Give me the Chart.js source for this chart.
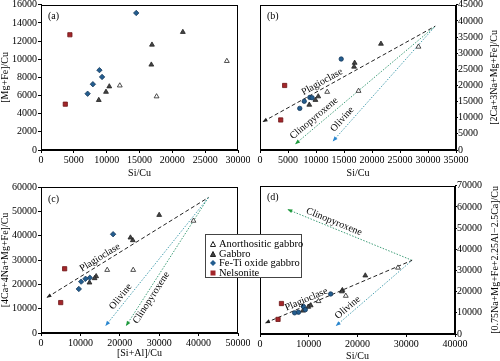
<!DOCTYPE html>
<html>
<head>
<meta charset="utf-8">
<script src="https://cdn.jsdelivr.net/npm/chart.js@4.4.1/dist/chart.umd.min.js"></script>
<style>
body { margin: 0; background: #fff; }
#wrap { position: relative; width: 500px; height: 361px; overflow: hidden; }
canvas { position: absolute; }
#legend {
  position: absolute; left: 205px; top: 234px; width: 97px; height: 44px;
  box-sizing: border-box; border: 1px solid #444; background: #fff;
  font: 10.5px 'Liberation Serif', 'Times New Roman', serif; color: #000;
  padding: 4px 0 0 4px; line-height: 9.5px; z-index: 5;
}
#legend div { white-space: nowrap; }
#legend svg { margin-right: 3px; vertical-align: 0px; }
</style>
</head>
<body>
<div id="wrap">
  <canvas id="pa" width="250" height="180" style="left:0;top:0"></canvas>
  <canvas id="pb" width="250" height="180" style="left:250px;top:0"></canvas>
  <canvas id="pc" width="250" height="180" style="left:0;top:181px"></canvas>
  <canvas id="pd" width="250" height="180" style="left:250px;top:181px"></canvas>
  <div id="legend">
    <div><svg width="6" height="6"><polygon points="3,0.5 5.6,5.5 0.4,5.5" fill="#fff" stroke="#222"/></svg>Anorthositic gabbro</div>
    <div><svg width="6" height="6"><polygon points="3,0.5 5.6,5.5 0.4,5.5" fill="#444" stroke="#222"/></svg>Gabbro</div>
    <div><svg width="6" height="6"><polygon points="3,0 6,3 3,6 0,3" fill="#235d8f"/></svg>Fe-Ti oxide gabbro</div>
    <div><svg width="6" height="6"><rect x="0.5" y="0.5" width="5" height="5" fill="#a3262a"/></svg>Nelsonite</div>
  </div>
</div>
<script>
// Si/Cu for each rock group (x of panels a, b, d)
const anoSiCu = [28300, 17600, 12000];
const gabSiCu = [21600, 16900, 16800, 10400, 9900, 8800];
const fetSiCu = [14500, 8900, 9300, 7900, 7100];
const nelSiCu = [4400, 3700];

// (a) [Mg+Fe]/Cu
const anoA = [9800, 5900, 7100];
const gabA = [13000, 11600, 9400, 7000, 6400, 5500];
const fetA = [15100, 8800, 8050, 7250, 6200];
const nelA = [12700, 5050];

// (b) [2Ca+3Na+Mg+Fe]/Cu
const anoB = [32000, 18300, 18000];
const gabB = [32900, 27000, 25800, 16600, 15500, 14000];
const fetB = [28200, 16300, 16200, 15100, 12900];
const nelB = [20000, 9300];

// (c) [Si+Al]/Cu vs [4Ca+4Na+Mg+Fe]/Cu
const anoCx = [38700, 23400, 16800];
const anoCy = [46100, 25900, 25900];
const gabCx = [30000, 23300, 22700, 14000, 13600, 12300];
const gabCy = [48500, 38100, 39200, 23300, 22500, 20700];
const fetCx = [18300, 12400, 11300, 10200, 9600];
const fetCy = [40600, 22700, 22300, 21100, 18100];
const nelCx = [6000, 5000];
const nelCy = [26400, 12500];

// (d) [0.75Na+Mg+Fe+2.25Al-2.5Ca]/Cu
const anoD = [31300, 18000, 15500];
const gabD = [27600, 20700, 20100, 13500, 12800, 11000];
const fetD = [18900, 13000, 11500, 10300, 10000];
const nelD = [14400, 6900];

// mineral vectors: [arrow tip, common end]
const bPlag = [[600, 8850], [31300, 38400]];
const bCpx = [[6400, 2000], [31300, 38400]];
const bOl = [[13100, 2900], [31300, 38400]];
const cPlag = [[1600, 14700], [42500, 55700]];
const cOl = [[16500, 3200], [42500, 55700]];
const cCpx = [[21700, 3200], [42500, 55700]];
const dPlag = [[1200, 5300], [31200, 34800]];
const dCpx = [[5800, 58700], [31200, 34800]];
const dOl = [[15700, 4100], [31200, 34800]];

const SERIF = "'Liberation Serif','Times New Roman',serif";

const sty = {
  ano: { pointStyle: 'triangle', pointRadius: 2.8, backgroundColor: '#fff', borderColor: '#222' },
  gab: { pointStyle: 'triangle', pointRadius: 2.8, backgroundColor: '#444', borderColor: '#222' },
  fet: { pointStyle: 'rectRot', pointRadius: 2.7, backgroundColor: '#235d8f', borderColor: '#163a5c' },
  fetC: { pointStyle: 'circle', pointRadius: 2.2, backgroundColor: '#235d8f', borderColor: '#163a5c' },
  nel: { pointStyle: 'rect', pointRadius: 3, backgroundColor: '#a3262a', borderColor: '#6d1517' }
};

function pts(xs, ys) { return xs.map((x, i) => ({ x: x, y: ys[i] })); }
function grp(xs, ys, s) { return Object.assign({ data: pts(xs, ys), borderWidth: 0.8 }, s); }
function vec(p, color, arrow, dash) {
  return { data: p.map(q => ({ x: q[0], y: q[1] })), showLine: true, borderColor: color, borderWidth: 1,
    borderDash: dash, pointRadius: 0, arrow: arrow };
}
const plagVec = p => vec(p, '#222', '#222', [4, 2.5]);
const cpxVec = p => vec(p, '#3f9d78', '#1f9a3c', [1.5, 1.5]);
const olVec = p => vec(p, '#4aa0b0', '#2a86d0', [1.5, 1.5]);

const decor = {
  id: 'decor',
  afterDatasetsDraw(chart) {
    const o = chart.options.plugins.decor;
    const ctx = chart.ctx, a = chart.chartArea, xs = chart.scales.x, ys = chart.scales.y;
    ctx.save();
    chart.data.datasets.forEach((ds, i) => {
      if (!ds.arrow) return;
      const m = chart.getDatasetMeta(i).data;
      const ang = Math.atan2(m[0].y - m[1].y, m[0].x - m[1].x);
      ctx.save();
      ctx.translate(m[0].x, m[0].y);
      ctx.rotate(ang);
      ctx.beginPath();
      ctx.moveTo(1, 0); ctx.lineTo(-4, -2); ctx.lineTo(-4, 2); ctx.closePath();
      ctx.fillStyle = ds.arrow;
      ctx.fill();
      ctx.restore();
    });
    ctx.font = '10px ' + SERIF;
    ctx.fillStyle = '#000';
    ctx.textBaseline = 'middle';
    (o.labels || []).forEach(l => {
      const m = chart.getDatasetMeta(l.ds).data;
      let ang = Math.atan2(m[1].y - m[0].y, m[1].x - m[0].x);
      if (ang > Math.PI / 2) ang -= Math.PI;
      if (ang < -Math.PI / 2) ang += Math.PI;
      ctx.save();
      ctx.translate(xs.getPixelForValue(l.at[0]), ys.getPixelForValue(l.at[1]));
      ctx.rotate(ang);
      ctx.textAlign = 'center';
      ctx.fillText(l.text, 0, 0);
      ctx.restore();
    });
    ctx.textAlign = 'left';
    ctx.fillText(o.tag, a.left + 7, a.top + 12);
    if (o.rightTitle) {
      ctx.save();
      ctx.translate(o.rtx, (a.top + a.bottom) / 2);
      ctx.rotate(-Math.PI / 2);
      ctx.textAlign = 'center';
      ctx.fillText(o.rightTitle, 0, 0);
      ctx.restore();
    }
    ctx.strokeStyle = '#000';
    ctx.lineWidth = 1;
    ctx.strokeRect(Math.round(a.left) + 0.5, Math.round(a.top) + 0.5,
      Math.round(a.right - a.left) - 1, Math.round(a.bottom - a.top) - 1);
    ctx.restore();
  }
};

function axis(pos, max, step, title, size, tpad) {
  const horiz = pos === 'bottom';
  return {
    type: 'linear', position: pos, min: 0, max: max,
    ticks: { stepSize: step, color: '#000', font: { family: SERIF, size: 10 },
      padding: pos === 'right' ? 0 : 1, maxRotation: 0, autoSkip: false, callback: v => String(v) },
    grid: { drawOnChartArea: false, tickLength: pos === 'right' ? 2 : 3, color: '#000' },
    border: { color: '#000' },
    title: { display: !!title, text: title, color: '#000', font: { family: SERIF, size: 10, lineHeight: 1 },
      padding: { top: 0, bottom: tpad || 0 } },
    afterFit(s) {
      if (horiz) s.height = size; else s.width = size;
      s.paddingLeft = s.paddingRight = s.paddingTop = s.paddingBottom = 0;
    }
  };
}

function panel(id, p) {
  new Chart(document.getElementById(id), {
    type: 'scatter',
    data: { datasets: p.sets },
    options: {
      responsive: false, animation: false, events: [],
      layout: { padding: p.pad },
      plugins: { legend: { display: false }, tooltip: { enabled: false }, decor: p.decor },
      scales: {
        x: axis('bottom', p.xmax, p.xstep, p.xtitle, p.xh, p.xtp),
        y: axis(p.ypos, p.ymax, p.ystep, p.ytitle, p.yw)
      }
    },
    plugins: [decor]
  });
}

panel('pa', {
  sets: [grp(nelSiCu, nelA, sty.nel), grp(fetSiCu, fetA, sty.fet), grp(gabSiCu, gabA, sty.gab), grp(anoSiCu, anoA, sty.ano)],
  pad: { left: 0, top: 4, right: 12, bottom: 0 },
  xmax: 30000, xstep: 5000, xtitle: 'Si/Cu', xh: 30, xtp: 2,
  ypos: 'left', ymax: 16000, ystep: 2000, ytitle: '[Mg+Fe]/Cu', yw: 41,
  decor: { tag: '(a)' }
});

panel('pb', {
  sets: [grp(nelSiCu, nelB, sty.nel), grp(fetSiCu, fetB, sty.fetC), grp(gabSiCu, gabB, sty.gab), grp(anoSiCu, anoB, sty.ano),
    plagVec(bPlag), cpxVec(bCpx), olVec(bOl)],
  pad: { left: 10, top: 3, right: 0, bottom: 0 },
  xmax: 35000, xstep: 5000, xtitle: 'Si/Cu', xh: 30, xtp: 2,
  ypos: 'right', ymax: 45000, ystep: 5000, ytitle: '', yw: 44,
  decor: { tag: '(b)', rightTitle: '[2Ca+3Na+Mg+Fe]/Cu', rtx: 244,
    labels: [{ ds: 4, text: 'Plagioclase', at: [11100, 21100] },
      { ds: 5, text: 'Clinopyroxene', at: [9640, 9800] },
      { ds: 6, text: 'Olivine', at: [14700, 9500] }] }
});

panel('pc', {
  sets: [grp(nelCx, nelCy, sty.nel), grp(fetCx, fetCy, sty.fet), grp(gabCx, gabCy, sty.gab), grp(anoCx, anoCy, sty.ano),
    plagVec(cPlag), olVec(cOl), cpxVec(cCpx)],
  pad: { left: 0, top: 6, right: 12, bottom: 0 },
  xmax: 50000, xstep: 10000, xtitle: '[Si+Al]/Cu', xh: 28, xtp: 3,
  ypos: 'left', ymax: 60000, ystep: 10000, ytitle: '[4Ca+4Na+Mg+Fe]/Cu', yw: 41,
  decor: { tag: '(c)',
    labels: [{ ds: 4, text: 'Plagioclase', at: [14970, 31000] },
      { ds: 5, text: 'Olivine', at: [20230, 14920] },
      { ds: 6, text: 'Clinopyroxene', at: [28000, 14500] }] }
});

panel('pd', {
  sets: [grp(nelSiCu, nelD, sty.nel), grp(fetSiCu, fetD, sty.fetC), grp(gabSiCu, gabD, sty.gab), grp(anoSiCu, anoD, sty.ano),
    plagVec(dPlag), cpxVec(dCpx), olVec(dOl)],
  pad: { left: 10, top: 4, right: 0, bottom: 0 },
  xmax: 40000, xstep: 10000, xtitle: 'Si/Cu', xh: 27, xtp: 0,
  ypos: 'right', ymax: 70000, ystep: 10000, ytitle: '', yw: 45,
  decor: { tag: '(d)', rightTitle: '[0.75Na+Mg+Fe+2.25Al\u22122.5Ca]/Cu', rtx: 245,
    labels: [{ ds: 4, text: 'Plagioclase', at: [9500, 16300] },
      { ds: 5, text: 'Clinopyroxene', at: [15180, 53000] },
      { ds: 6, text: 'Olivine', at: [18000, 12500] }] }
});
</script>
</body>
</html>
